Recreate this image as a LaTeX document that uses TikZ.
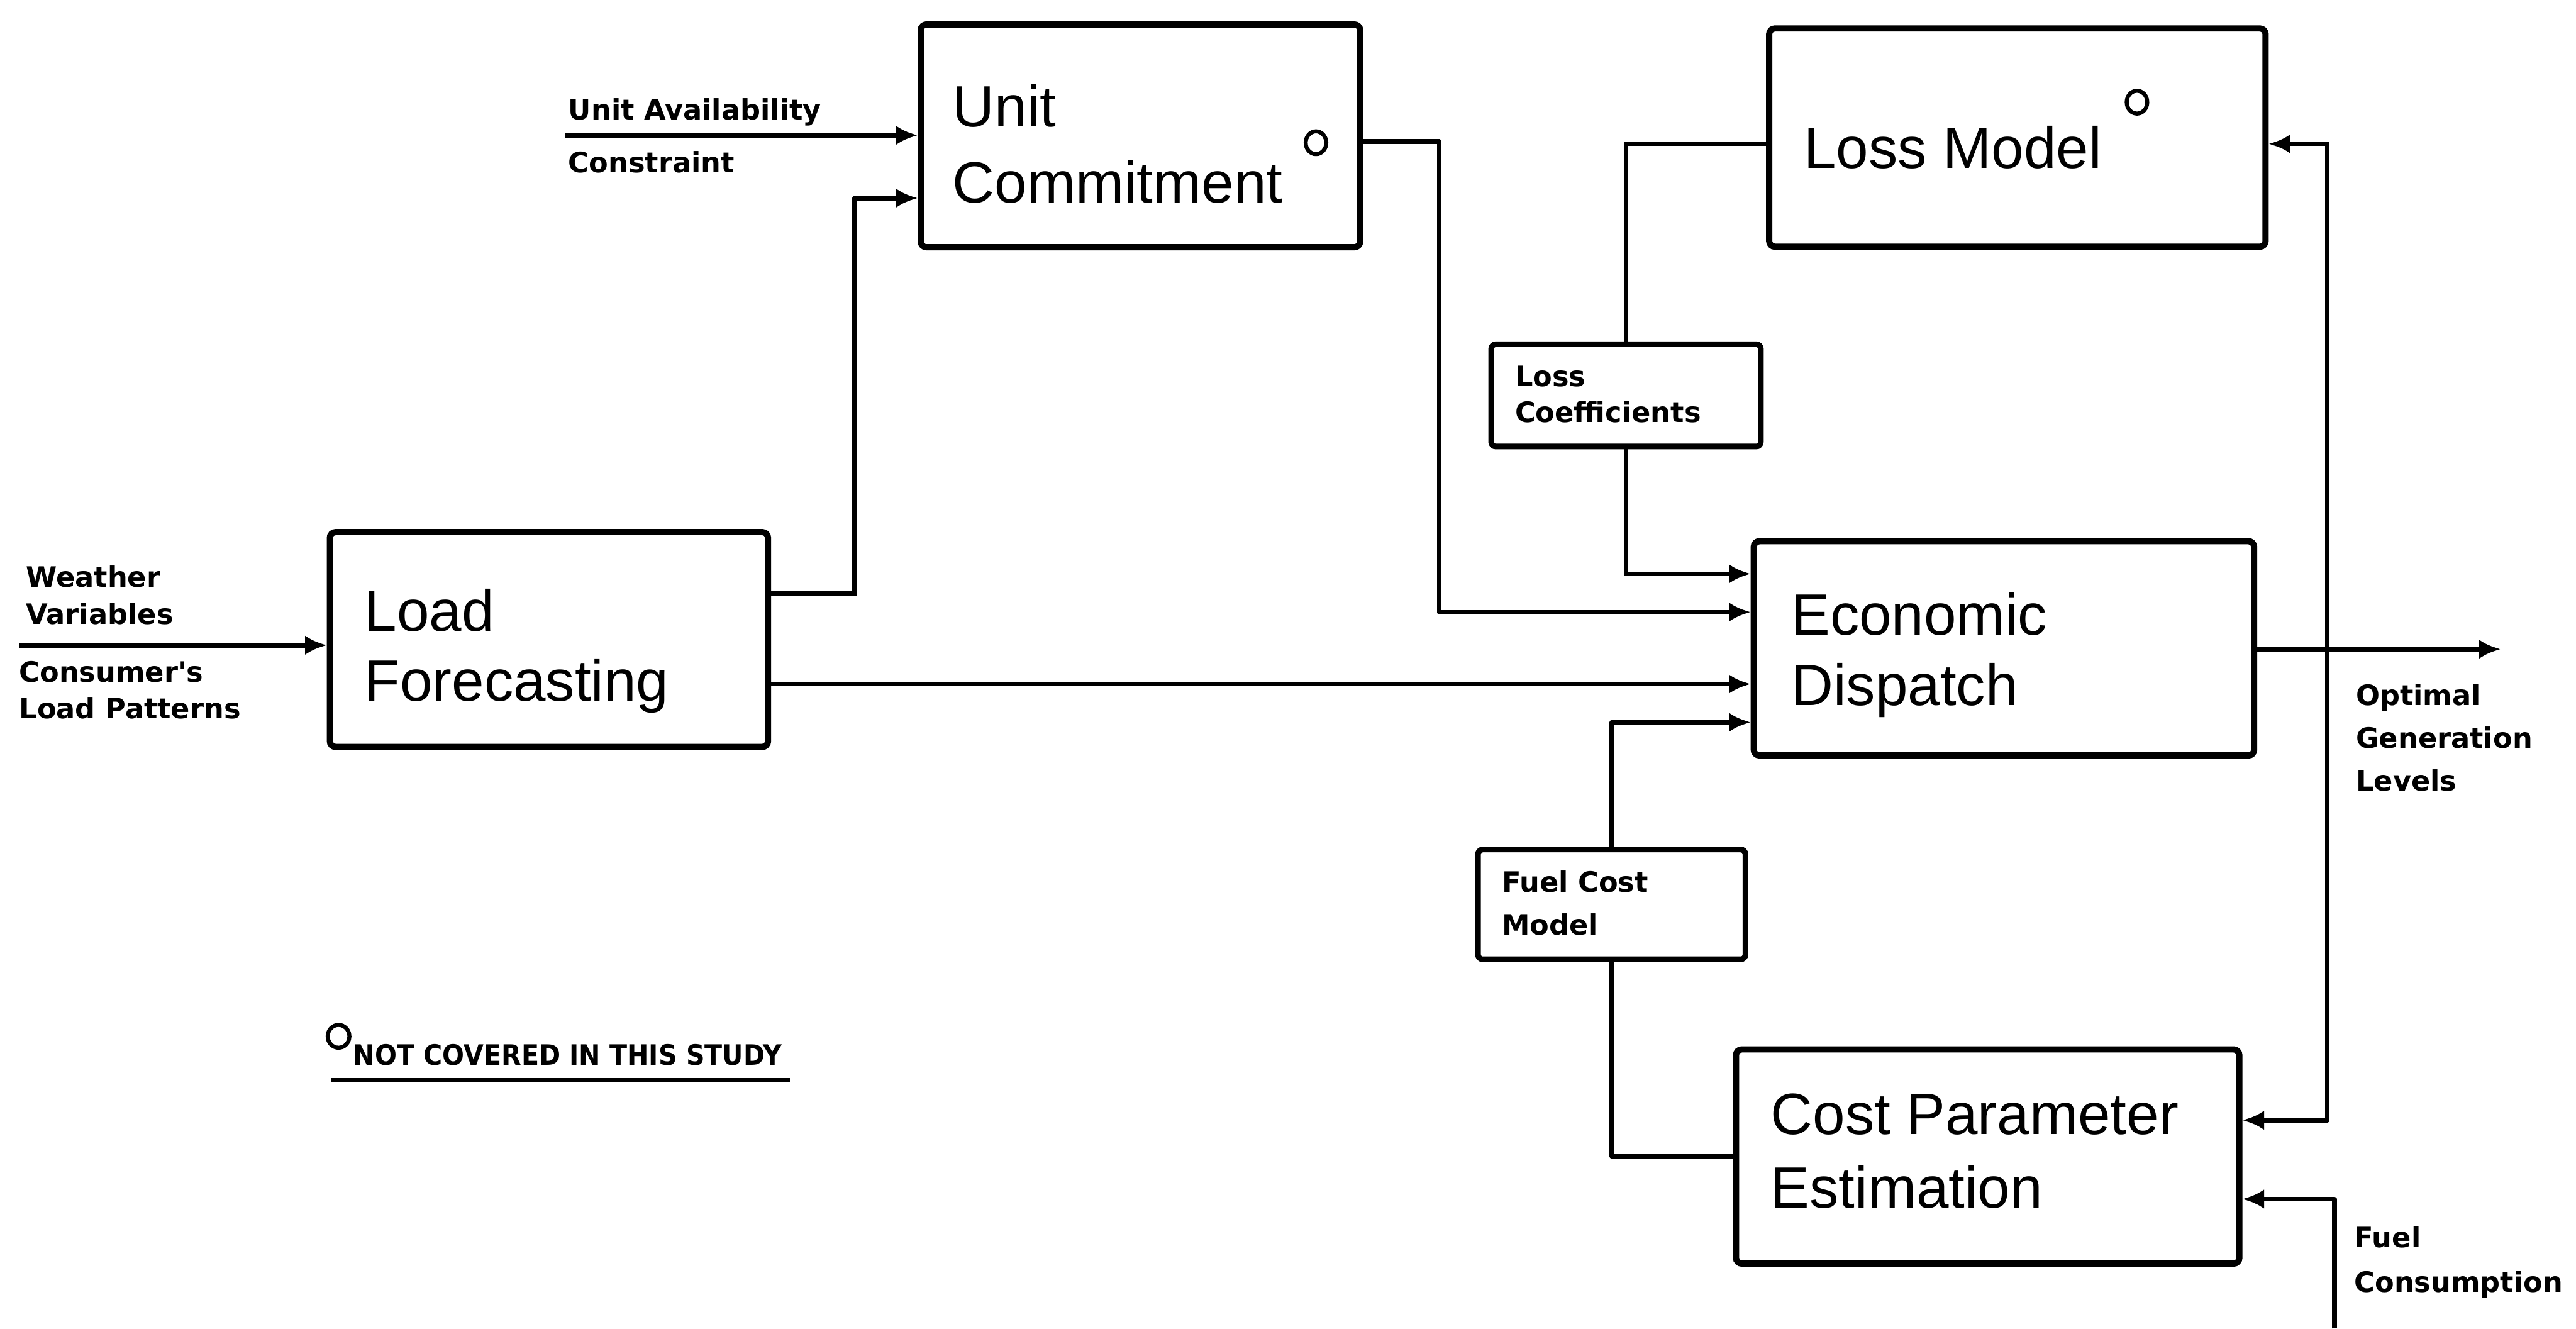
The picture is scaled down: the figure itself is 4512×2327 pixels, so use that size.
\documentclass[tikz,border=0pt]{standalone}
\usepackage{fontspec}
\usepackage{graphicx}
\setmainfont{Liberation Sans}
\newfontfamily\lblfont{DejaVu Sans}
\usetikzlibrary{arrows.meta}

\begin{document}
\begin{tikzpicture}[x=0.01cm, y=-0.01cm,
  block/.style={draw, line width=3.1pt, rounded corners=0.1cm, inner sep=0pt, anchor=center},
  tagbox/.style={draw, line width=2.8pt, rounded corners=0.08cm, inner sep=0pt, anchor=center},
  title/.style={anchor=base west, inner sep=0pt, font=\fontsize{29pt}{34pt}\selectfont},
  lbl/.style={anchor=base west, inner sep=0pt,
    font=\lblfont\bfseries\fontsize{14pt}{20pt}\selectfont},
  wire/.style={line width=2.3pt, line join=round},
  arr/.style={wire, -{Latex[length=0.38cm, width=0.34cm]}},
  ring/.style={line width=2pt}
]
\useasboundingbox (0,0) rectangle (4512,2327);

% main blocks
\node[block, minimum width=7.69cm, minimum height=3.9cm]  (uc)  at (1997.5,238) {};
\node[block, minimum width=8.69cm, minimum height=3.82cm] (lm)  at (3533.5,241) {};
\node[block, minimum width=7.67cm, minimum height=3.76cm] (lf)  at (961.5,1120) {};
\node[block, minimum width=8.76cm, minimum height=3.75cm] (ed)  at (3510,1135.5) {};
\node[block, minimum width=8.81cm, minimum height=3.75cm] (cpe) at (3481.5,2025.5) {};

% block titles
\node[title] (uct1) at (1668,222) {Unit};
\node[title] (uct2) at (1668,355) {Commitment};
\node[title] (lmt)  at (3159,295) {Loss Model};
\node[title] (lft1) at (638,1105) {Load};
\node[title] (lft2) at (638,1228) {Forecasting};
\node[title] (edt1) at (3137,1112) {Economic};
\node[title] (edt2) at (3137,1235) {Dispatch};
\node[title] (cpt1) at (3101,1987) {Cost Parameter};
\node[title] (cpt2) at (3101,2115) {Estimation};

% intermediate data boxes
\node[tagbox, minimum width=4.72cm, minimum height=1.79cm] (lc) at (2848,692.5) {};
\node[lbl] (lct1) at (2653,677) {Loss};
\node[lbl] (lct2) at (2653,740) {Coefficients};
\node[tagbox, minimum width=4.68cm, minimum height=1.92cm] (fc) at (2823,1584) {};
\node[lbl] (fct1) at (2630,1563) {Fuel Cost};
\node[lbl] (fct2) at (2630,1637) {Model};

% "not covered" markers
\draw[ring] (2305,250) ellipse [x radius=0.18cm, y radius=0.2cm];
\draw[ring] (3743,179) ellipse [x radius=0.18cm, y radius=0.2cm];

% external inputs
\coordinate (wvin) at (33,1130);
\draw[arr] (wvin) -- (wvin -| lf.west);
\node[lbl] (wv1) at (45,1028) {Weather};
\node[lbl] (wv2) at (45,1093) {Variables};
\node[lbl] (lp1) at (33,1195) {Consumer's};
\node[lbl] (lp2) at (33,1258) {Load Patterns};

\coordinate (uain) at (990,237);
\draw[arr] (uain) -- (uain -| uc.west);
\node[lbl] (ua1) at (995,210) {Unit Availability};
\node[lbl] (ua2) at (995,302) {Constraint};

% flows between blocks
\draw[arr] (lf.east |- 0,1040) -| (1497,347) -- (uc.west |- 0,347);
\draw[arr] (lf.east |- 0,1198) -- (ed.west |- 0,1198);
\draw[arr] (uc.east |- 0,248) -| (2521,1072) -- (ed.west |- 0,1072);
\draw[wire] (lm.west |- 0,252) -| (lc.north);
\draw[arr] (lc.south) |- (ed.west |- 0,1005);
\draw[arr] (fc.north) |- (ed.west |- 0,1265);
\draw[wire] (cpe.west |- 0,2025) -| (fc.south);

% output and feedback
\coordinate (out) at (4380,1137);
\coordinate (fb) at (4076,1137);
\draw[arr] (ed.east |- out) -- (out);
\draw[arr] (fb) |- (lm.east |- 0,252);
\draw[arr] (fb) |- (cpe.east |- 0,1962);
\node[lbl] (og1) at (4126,1235) {Optimal};
\node[lbl] (og2) at (4126,1310) {Generation};
\node[lbl] (og3) at (4126,1385) {Levels};

\coordinate (fcin) at (4089,2327);
\draw[arr] (fcin) |- (cpe.east |- 0,2100);
\node[lbl] (fu1) at (4123,2185) {Fuel};
\node[lbl] (fu2) at (4123,2263) {Consumption};

% legend
\draw[ring] (593,1815) ellipse [x radius=0.19cm, y radius=0.2cm];
\node[lbl] (note) at (618,1866) {\scalebox{0.92}[1]{NOT COVERED IN THIS STUDY}};
\coordinate (ul1) at (581,1892);
\coordinate (ul2) at (1383,1892);
\draw[line width=2.3pt] (ul1) -- (ul2);
\end{tikzpicture}
\end{document}
